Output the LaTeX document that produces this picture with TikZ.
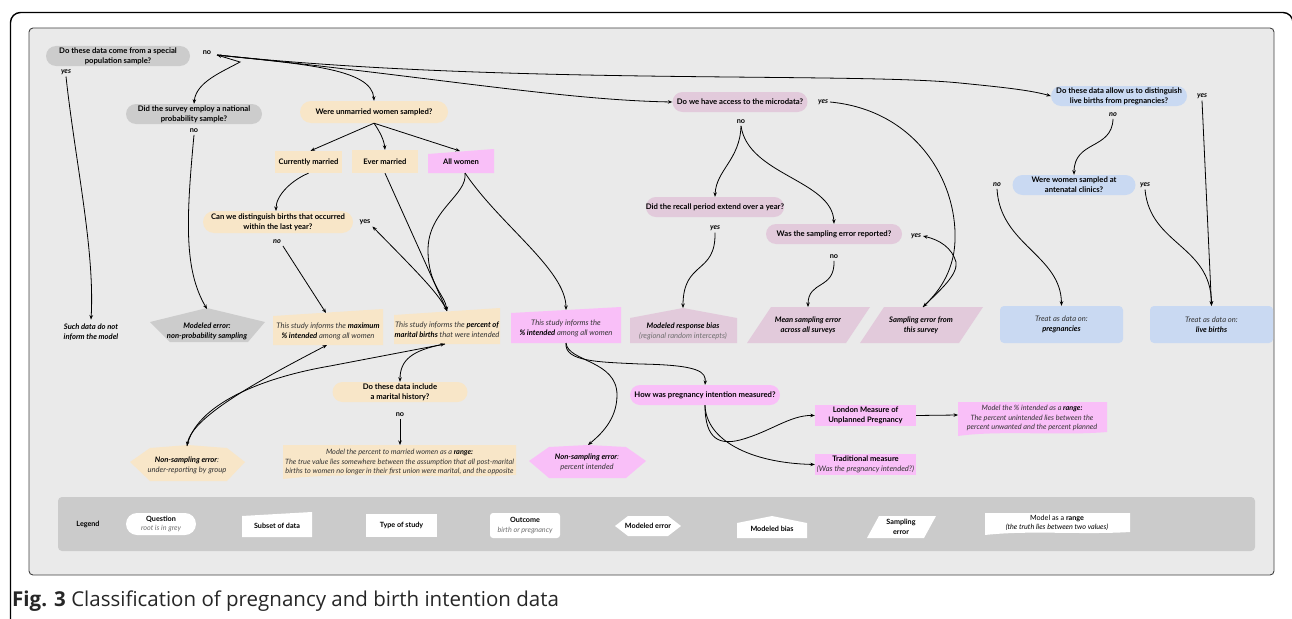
\documentclass[tikz,border=0pt]{standalone}
\usepackage{fontspec}
\setmainfont{Lato}
\newfontfamily\capfont{Open Sans}
\usetikzlibrary{arrows.meta}
\definecolor{panelc}{HTML}{EAEAEA}
\definecolor{qgray}{HTML}{CCCCCC}
\definecolor{beige}{HTML}{F8E6C8}
\definecolor{pinkc}{HTML}{F9BFF8}
\definecolor{mauve}{HTML}{E2CADB}
\definecolor{bluec}{HTML}{C9D9F2}
\definecolor{legc}{HTML}{CBCBCB}
\definecolor{txtc}{HTML}{333333}
\definecolor{softc}{HTML}{707070}
\tikzset{
  base/.style={font=\fontsize{7.6}{10.2}\selectfont, align=center, inner sep=0pt, text=black},
  ques/.style={base, font=\fontsize{7.7}{10.2}\selectfont\bfseries, rounded corners=10pt, minimum height=20pt},
  lbl/.style={base, font=\fontsize{7.3}{8}\selectfont\bfseries, outer sep=2pt},
  ylbl/.style={base, font=\fontsize{7.3}{8}\selectfont\bfseries\itshape, outer sep=2pt},
  study/.style={base, font=\fontsize{7.6}{10.2}\selectfont\itshape, text=txtc},
  boldi/.style={base, font=\fontsize{7.6}{10.2}\selectfont\bfseries\itshape},
  cat/.style={base, font=\fontsize{7.6}{10.2}\selectfont\bfseries},
  legt/.style={base, font=\fontsize{7.2}{9.6}\selectfont\bfseries},
  rng/.style={base, font=\fontsize{7.3}{9.4}\selectfont\itshape, text=txtc},
  arr/.style={line width=0.8pt, -{Stealth[length=4.5pt,width=3.5pt]}},
  arrb/.style={line width=0.8pt, {Stealth[length=4.5pt,width=3.5pt]}-{Stealth[length=4.5pt,width=3.5pt]}},
}
\begin{document}
\begin{tikzpicture}[x=1pt,y=-1pt]
\useasboundingbox (0,0) rectangle (1292,618);
% frame and panels
\draw[line width=1.4pt, rounded corners=10pt] (10.5,620) -- (10.5,12.5) -- (1293,12.5) -- (1293,620);
\draw[fill=panelc, draw=black!75, line width=0.9pt, rounded corners=4pt] (29,28) rectangle (1274,575);
\fill[legc, rounded corners=4pt] (58,497) rectangle (1255,551);

% ---- shapes drawn directly
\fill[pinkc] (428,154) -- (494,149) -- (494,173) -- (428,173) -- cycle;
\fill[qgray] (207,308) -- (265,322) -- (248,342) -- (170,342) -- (150,322) -- cycle;
\fill[beige] (273,316) -- (383,309) -- (383,345) -- (273,345) -- cycle;
\fill[beige] (394,315) -- (500,308) -- (500,344) -- (394,344) -- cycle;
\fill[pinkc] (511,313) -- (621,307) -- (621,343) -- (511,343) -- cycle;
\fill[mauve] (630,318) -- (683,308) -- (737,318) -- (737,343) -- (630,343) -- cycle;
\fill[mauve] (747,343) -- (771,307) -- (870,307) -- (846,343) -- cycle;
\fill[mauve] (860,343) -- (884,307) -- (983,307) -- (959,343) -- cycle;
\fill[beige] (283,445) -- (516,445) -- (516,475) .. controls (450,479) and (350,471) .. (283,479) -- cycle;
\fill[pinkc] (958,402) -- (1107,402) -- (1107,432) .. controls (1060,436) and (1000,430) .. (958,436) -- cycle;
\fill[beige] (130,462) -- (150,448) -- (188,445) -- (227,448) -- (245,462) -- (227,481) -- (150,481) -- cycle;
\fill[pinkc] (529,461) -- (549,447) -- (588,445) -- (626,447) -- (646,461) -- (626,478) -- (549,478) -- cycle;
% legend shapes
\fill[white] (242,516) -- (312,512) -- (312,537) -- (242,537) -- cycle;
\fill[white] (615,526) -- (628,516) -- (668,516) -- (681,526) -- (668,536) -- (628,536) -- cycle;
\fill[white] (737,523) -- (772,516) -- (807,523) -- (807,538) -- (737,538) -- cycle;
\fill[white] (867,538) -- (879,516) -- (936,516) -- (924,538) -- cycle;
\fill[white] (985,513) -- (1130,513) -- (1130,532) .. controls (1080,535) and (1030,530) .. (985,535) -- cycle;

% ---- question nodes
\node[ques, fill=qgray, minimum width=144pt] (q1) at (118,56) {Do these data come from a special\\population sample?};
\node[ques, fill=qgray, minimum width=136pt] (q2) at (194,114) {Did the survey employ a national\\probability sample?};
\node[ques, fill=beige, minimum width=148pt, minimum height=22pt, rounded corners=11pt] (q3) at (374,112) {Were unmarried women sampled?};
\node[ques, fill=beige, minimum width=150pt, minimum height=22pt, rounded corners=11pt] (q4) at (278,222) {Can we distinguish births that occurred\\within the last year?};
\node[ques, fill=mauve, minimum width=135pt] (q5) at (740,102) {Do we have access to the microdata?};
\node[ques, fill=mauve, minimum width=136pt] (q6) at (715,207) {Did the recall period extend over a year?};
\node[ques, fill=mauve, minimum width=136pt] (q7) at (834,234) {Was the sampling error reported?};
\node[ques, fill=bluec, minimum width=136pt] (q8) at (1119,96) {Do these data allow us to distinguish\\live births from pregnancies?};
\node[ques, fill=bluec, minimum width=123pt] (q9) at (1074,185) {Were women sampled at\\antenatal clinics?};
\node[ques, fill=beige, minimum width=135pt] (q10) at (400,392) {Do these data include\\a marital history?};
\node[ques, fill=pinkc, minimum width=150pt] (q11) at (705,395) {How was pregnancy intention measured?};

% ---- answer labels
\node[lbl] (no1) at (207,53) {no};
\node[ylbl] (yes1) at (66,72) {yes};
\node[lbl] (no2) at (194,131) {no};
\node[ylbl] (no4) at (277,242) {no};
\node[lbl] (yes4) at (365,222) {yes};
\node[lbl] (no5) at (741,122) {no};
\node[ylbl] (yes5) at (823,102) {yes};
\node[ylbl] (yes6) at (715,228) {yes};
\node[lbl] (no7) at (834,257) {no};
\node[ylbl] (yes7) at (916,236) {yes};
\node[ylbl] (no8) at (1113,115) {no};
\node[ylbl] (yes8) at (1202,96) {yes};
\node[ylbl] (no9) at (997,185) {no};
\node[ylbl] (yes9) at (1145,185) {yes};
\node[lbl] (no10) at (400,415) {no};

% ---- data subsets and results
\node[cat, fill=beige, minimum width=67pt, minimum height=22pt] (cm) at (308.5,162) {Currently married};
\node[cat, fill=beige, minimum width=66pt, minimum height=23pt] (em) at (385,161.5) {Ever married};
\node[cat] (aw) at (461,162) {All women};
\node[boldi, outer sep=4pt] (such) at (91,332) {Such data do not\\inform the model};
\node[boldi] (me) at (207,331) {Modeled error:\\non-probability sampling};
\node[study] (max) at (328,331) {This study informs the \textcolor{black}{\bfseries maximum}\\\textcolor{black}{\bfseries \% intended} among all women};
\node[study] (pm) at (447,330) {This study informs the \textcolor{black}{\bfseries percent of}\\\textcolor{black}{\bfseries marital births} that were intended};
\node[study] (pi) at (566,328) {This study informs the\\\textcolor{black}{\bfseries \% intended} among all women};
\node[study] (mrb) at (683,331) {\textcolor{black}{\bfseries Modeled response bias}\\\textcolor{softc}{(regional random intercepts)}};
\node[boldi] (mse) at (808,325) {Mean sampling error\\across all surveys};
\node[boldi] (ses) at (921,325) {Sampling error from\\this survey};
\node[study, fill=bluec, rounded corners=4pt, minimum width=123pt, minimum height=37pt] (preg) at (1061.5,324.5) {Treat as data on:\\\textcolor{black}{\bfseries pregnancies}};
\node[study, fill=bluec, rounded corners=4pt, minimum width=123pt, minimum height=37pt] (lb) at (1211.5,324.5) {Treat as data on:\\\textcolor{black}{\bfseries live births}};
\node[rng] (rb1) at (399.5,462) {Model the percent to married women as a \textcolor{black}{\bfseries range:}\\The true value lies somewhere between the assumption that all post-marital\\births to women no longer in their first union were marital, and the opposite};
\node[study] (nse1) at (187,465) {\textcolor{black}{\bfseries Non-sampling error}:\\under-reporting by group};
\node[study] (nse2) at (587,462) {\textcolor{black}{\bfseries Non-sampling error}:\\percent intended};
\node[cat, fill=pinkc, minimum width=101pt, minimum height=21pt] (lon) at (865.5,415.5) {London Measure of\\Unplanned Pregnancy};
\node[cat, fill=pinkc, minimum width=101pt, minimum height=21pt] (trad) at (865.5,464.5) {Traditional measure\\\textcolor{txtc}{\mdseries\itshape (Was the pregnancy intended?)}};
\node[rng] (rb2) at (1032,418) {Model the \% intended as a \textcolor{black}{\bfseries range:}\\The percent unintended lies between the\\percent unwanted and the percent planned};

% ---- legend
\node[legt] (leg) at (88,524) {Legend};
\node[legt, fill=white, rounded corners=11pt, minimum width=70pt, minimum height=22pt] (lq) at (161,524) {Question\\\textcolor{softc}{\mdseries\itshape root is in grey}};
\node[legt] (ls) at (277,526) {Subset of data};
\node[legt, fill=white, minimum width=71pt, minimum height=23pt] (lt) at (401.5,525.5) {Type of study};
\node[legt, fill=white, rounded corners=3pt, minimum width=70pt, minimum height=25pt] (lo) at (525,525.5) {Outcome\\\textcolor{softc}{\mdseries\itshape birth or pregnancy}};
\node[legt] (lme) at (648,526) {Modeled error};
\node[legt] (lmb) at (772,529) {Modeled bias};
\node[legt] (lse) at (901,527) {Sampling\\error};
\node[base, font=\fontsize{7.2}{9.6}\selectfont] (lr) at (1057,523) {Model as a \textbf{range}\\\textit{(the truth lies between two values)}};

% caption
\node[anchor=base west, inner sep=0pt, font=\capfont\fontsize{20.5}{24}\selectfont, text=black!85] (cap) at (12,606) {\textbf{Fig. 3} Classification of pregnancy and birth intention data};

% ---- anchor coordinates on drawn shapes
\coordinate (n1) at (217,55);
\coordinate (met) at (207,309);
\coordinate (maxt) at (326,313);
\coordinate (maxb) at (327,345);
\coordinate (pmt) at (447,311);
\coordinate (pmb) at (445,344);
\coordinate (pit) at (566,310);
\coordinate (pib) at (566,343);
\coordinate (awt) at (460,151);
\coordinate (aws) at (465,173);
\coordinate (mrbt) at (683,308);
\coordinate (mset) at (808,307);
\coordinate (sest) at (923,307);
\coordinate (nse1t) at (187,446);
\coordinate (nse2t) at (588,445);
\coordinate (q4t) at (276,211);
\coordinate (rb1t) at (400,445);
\coordinate (rb2w) at (958,415);

% ---- connectors
\draw[arrb] (n1) -- (240,62) .. controls (222,72) and (196,82) .. (q2.north);
\draw[arr] (n1) .. controls (300,64) and (372,68) .. (q3.north);
\draw[arr] (n1) .. controls (420,75) and (560,100) .. (q5.west);
\draw[arr] (n1) .. controls (500,85) and (850,72) .. (960,83) .. controls (1000,87) and (1030,90) .. (q8.west);
\draw[arr] (yes1.south) .. controls (75,160) and (95,250) .. (such.north);
\draw[arr] (no2.south) .. controls (186,220) and (184,270) .. (met);
\draw[arr] (q3.south) -- ([xshift=2pt]cm.north);
\draw[arr] (q3.south) .. controls (380,132) and (384,140) .. (em.north);
\draw[arr] (q3.south) -- (awt);
\draw[arr] (cm.south) .. controls (292,180) and (276,195) .. (q4t);
\draw[arr] (no4.south east) -- (maxt);
\draw[arr] (em.south) -- (pmt);
\draw[arr] (aws) .. controls (468,195) and (428,210) .. (428,250) .. controls (428,285) and (445,295) .. (pmt);
\draw[arr] (aws) .. controls (500,225) and (566,270) .. (pit);
\draw[arr] (pmt) .. controls (440,295) and (420,275) .. (yes4.south east);
\draw[arrb] (nse1t) .. controls (192,415) and (270,375) .. (maxb);
\draw[arr] (nse1t) .. controls (196,405) and (260,378) .. (330,366) -- (pmb);
\draw[arr] (pmb) .. controls (412,350) and (400,360) .. (q10.north);
\draw[arr] (no10.south) -- (rb1t);
\draw[arr] (pib) .. controls (564,362) and (600,362) .. (640,364) .. controls (700,365) and (706,372) .. (q11.north);
\draw[arr] (pib) .. controls (568,362) and (617,360) .. (617,395) .. controls (617,420) and (600,435) .. (nse2t);
\draw[arr] (q11.south) .. controls (705,440) and (720,445) .. (740,440) .. controls (770,432) and (790,415) .. (lon.west);
\draw[arr] (q11.south) .. controls (706,440) and (750,463) .. (trad.west);
\draw[arr] (lon.east) -- (rb2w);
\draw[arr] (no5.south) .. controls (740,160) and (716,170) .. (q6.north);
\draw[arr] (no5.south) .. controls (748,175) and (832,180) .. (q7.north);
\draw[arr] (yes5.east) .. controls (915,110) and (957,180) .. (955,240) .. controls (954,275) and (935,295) .. (sest);
\draw[arr] (sest) .. controls (940,290) and (958,275) .. (956,262) .. controls (952,248) and (940,240) .. (yes7.east);
\draw[arr] (no7.south) .. controls (835,290) and (808,280) .. (mset);
\draw[arr] (yes6.south) .. controls (716,275) and (683,260) .. (mrbt);
\draw[arr] (no8.south) .. controls (1112,150) and (1074,140) .. (q9.north);
\draw[arr] (yes8.south) -- (lb.north);
\draw[arr] (no9.south) .. controls (1000,245) and (1061,255) .. (preg.north);
\draw[arr] (yes9.south) .. controls (1150,245) and (1211,245) .. (lb.north);
\end{tikzpicture}
\end{document}
